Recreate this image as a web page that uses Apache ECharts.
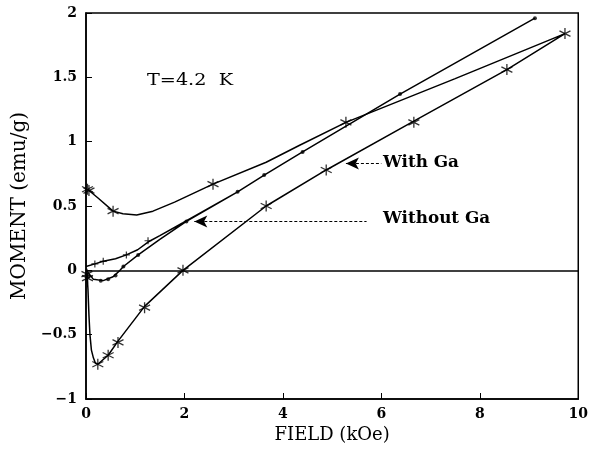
<!DOCTYPE html>
<html><head><meta charset="utf-8">
<script src="https://cdn.jsdelivr.net/npm/echarts@6/dist/echarts.min.js"></script>
<style>html,body{margin:0;padding:0;background:#fff}#c{width:591px;height:449px}</style>
</head><body><div id="c"></div>
<script>
// With Ga: full hysteresis loop (line) and measured star points
const withGaX = [0.02,0.04,0.06,0.08,0.11,0.15,0.19,0.24,0.45,0.65,1.19,1.97,3.66,4.88,6.66,8.55,9.73,7.5,5.28,4.33,3.66,2.58,1.8,1.36,1.03,0.75,0.55,0.25,0.03];
const withGaY = [-0.02,-0.15,-0.35,-0.5,-0.62,-0.68,-0.72,-0.73,-0.66,-0.55,-0.28,0.0,0.5,0.78,1.16,1.56,1.84,1.49,1.15,0.97,0.84,0.67,0.53,0.46,0.43,0.44,0.46,0.56,0.63];
const withGaStarX = [0.02,0.03,0.24,0.45,0.65,1.19,1.97,3.66,4.88,6.66,8.55,9.73,5.28,2.58,0.55,0.03,0.06];
const withGaStarY = [-0.03,-0.06,-0.73,-0.66,-0.56,-0.29,0.0,0.5,0.78,1.15,1.56,1.84,1.15,0.67,0.46,0.63,0.62];
// Without Ga: loop
const noGaX = [0.0,0.18,0.35,0.6,0.82,1.05,1.26,1.5,1.97,3.08,3.62,4.4,6.38,9.12,6.38,4.4,3.62,3.08,2.04,1.5,1.06,0.76,0.69,0.55,0.35,0.15,0.01];
const noGaY = [0.03,0.05,0.07,0.09,0.12,0.16,0.22,0.27,0.37,0.61,0.74,0.92,1.37,1.96,1.37,0.92,0.74,0.61,0.38,0.24,0.12,0.03,0.0,-0.05,-0.08,-0.07,0.0];
const noGaDotX = [9.12,6.38,4.4,3.62,3.08,2.04,1.06,0.76,0.6,0.45,0.3,0.05];
const noGaDotY = [1.96,1.37,0.92,0.74,0.61,0.38,0.12,0.03,-0.04,-0.07,-0.08,-0.05];
const noGaPlusX = [0.18,0.35,0.82,1.26];
const noGaPlusY = [0.05,0.07,0.12,0.23];
const xTicks = [0,2,4,6,8,10];
const yTicks = [-1,-0.5,0,0.5,1,1.5,2];

const zip = (a,b)=>a.map((v,i)=>[v,b[i]]);
const star = 'path://M0,-5L0,5M-4.33,-2.5L4.33,2.5M-4.33,2.5L4.33,-2.5';
const plus = 'path://M0,-5L0,5M-5,0L5,0';
const F = 'DejaVu Serif';
const chart = echarts.init(document.getElementById('c'));
chart.setOption({
  animation:false,
  backgroundColor:'#fff',
  grid:{left:86,right:11,top:13,bottom:48,show:true,borderColor:'#000',borderWidth:1.5,backgroundColor:'transparent'},
  xAxis:{type:'value',min:xTicks[0],max:xTicks[xTicks.length-1],interval:2,
    name:'FIELD (kOe)',nameLocation:'middle',nameGap:27,
    nameTextStyle:{fontFamily:F,fontSize:18,color:'#000'},
    axisLine:{onZero:false,lineStyle:{color:'#000',width:1.5}},
    axisTick:{inside:true,length:6,lineStyle:{color:'#000'}},
    axisLabel:{fontFamily:F,fontWeight:'bold',fontSize:14,color:'#000',margin:8},
    splitLine:{show:false}},
  yAxis:{type:'value',min:yTicks[0],max:yTicks[yTicks.length-1],interval:0.5,
    name:'MOMENT (emu/g)',nameLocation:'middle',nameGap:52,nameRotate:90,
    nameTextStyle:{fontFamily:F,fontSize:20,color:'#000'},
    axisLine:{onZero:false,lineStyle:{color:'#000',width:1.5}},
    axisTick:{inside:true,length:6,lineStyle:{color:'#000'}},
    axisLabel:{fontFamily:F,fontWeight:'bold',fontSize:14,color:'#000',margin:9,
      formatter:v=>String(v).replace('-','\u2212')},
    splitLine:{show:false}},
  series:[
    {type:'line',data:zip(withGaX,withGaY),showSymbol:false,symbol:'none',
     lineStyle:{color:'#000',width:1.5},
     markLine:{silent:true,symbol:['arrow','none'],symbolSize:[9,13],
       lineStyle:{color:'#000',type:[3,2],width:1},label:{show:false},
       data:[[{coord:[5.28,0.83]},{coord:[6.0,0.83]}],[{coord:[2.2,0.38]},{coord:[5.7,0.38]}]]}},
    {type:'line',data:zip(noGaX,noGaY),showSymbol:false,symbol:'none',
     lineStyle:{color:'#000',width:1.5},
     markLine:{silent:true,symbol:'none',lineStyle:{color:'#000',type:'solid',width:1.5},label:{show:false},
       data:[{yAxis:0}]}},
    {type:'scatter',data:zip(withGaStarX,withGaStarY),symbol:star,symbolSize:11,
     itemStyle:{color:'none',borderColor:'#000',borderWidth:1.3}},
    {type:'scatter',data:zip(noGaDotX,noGaDotY),symbol:'circle',symbolSize:4,
     itemStyle:{color:'#000'}},
    {type:'scatter',data:zip(noGaPlusX,noGaPlusY),symbol:plus,symbolSize:7,
     itemStyle:{color:'none',borderColor:'#000',borderWidth:1.2}}
  ],
  graphic:[
    {type:'text',left:147,top:73,scaleX:1.2,style:{text:'T=4.2  K',font:'16px "DejaVu Serif"',fill:'#000'}},
    {type:'text',left:383,top:155,scaleX:1.05,style:{text:'With Ga',font:'bold 16px "DejaVu Serif"',fill:'#000'}},
    {type:'text',left:383,top:211,scaleX:1.05,style:{text:'Without Ga',font:'bold 16px "DejaVu Serif"',fill:'#000'}}
  ]
});
</script></body></html>
